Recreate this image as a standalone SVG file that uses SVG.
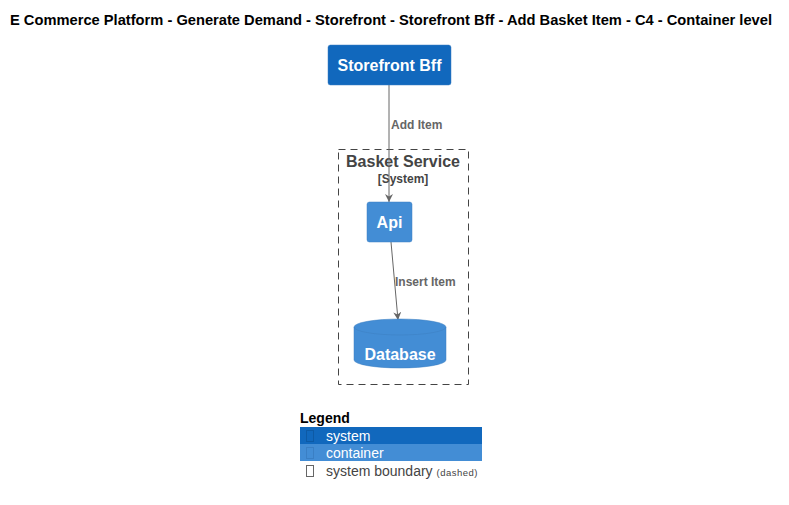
<svg xmlns="http://www.w3.org/2000/svg" width="789" height="505" viewBox="0 0 789 505">
<defs>
<style>
text{font-family:"Liberation Sans",Arial,sans-serif}
.title{font-size:14px;font-weight:bold;fill:#000}
.nlabel{font-size:16px;font-weight:bold;fill:#fff;text-anchor:middle}
.elabel{font-size:12px;font-weight:bold;fill:#666}
.edge{stroke:#666;stroke-width:1;fill:none}
.leg{font-size:14px;fill:#fff}
.icon{fill:none;stroke-width:1}
</style>
<marker id="arr" viewBox="0 0 10 10" refX="10" refY="5" markerWidth="8" markerHeight="8" orient="auto" markerUnits="userSpaceOnUse">
<path d="M0,0 L10,5 L0,10 L3,5 z" fill="#666"/>
</marker>
</defs>
<rect width="789" height="505" fill="#fff"/>
<text class="title" x="10" y="25" textLength="762" lengthAdjust="spacingAndGlyphs">E Commerce Platform - Generate Demand - Storefront - Storefront Bff - Add Basket Item - C4 - Container level</text>

<g id="basket-service-boundary">
<rect x="338.5" y="149.5" width="130" height="235" fill="none" stroke="#444" stroke-width="1" stroke-dasharray="7,5"/>
<text x="403" y="167" text-anchor="middle" style="font-size:16px;font-weight:bold;fill:#444">Basket Service</text>
<text x="403" y="183" text-anchor="middle" style="font-size:12px;font-weight:bold;fill:#444">[System]</text>
</g>

<g id="connectors">
<path class="edge" d="M389,85 L389,202" marker-end="url(#arr)"/>
<text class="elabel" x="391" y="129">Add Item</text>
<path class="edge" d="M391,242 L398,320" marker-end="url(#arr)"/>
<text class="elabel" x="395" y="286">Insert Item</text>
</g>

<g id="storefront-bff">
<rect x="328" y="45" width="123" height="40" rx="2.5" fill="#1168BD" stroke="#3C7FC0" stroke-width="0.5"/>
<text class="nlabel" x="389.5" y="71">Storefront Bff</text>
</g>

<g id="api">
<rect x="367" y="202" width="45" height="40" rx="2.5" fill="#438DD5" stroke="#3C7FC0" stroke-width="0.5"/>
<text class="nlabel" x="389.5" y="228">Api</text>
</g>

<g id="database">
<path d="M354,327 L354,360 A46,8 0 0 0 446,360 L446,327 A46,8 0 0 0 354,327 Z" fill="#438DD5" stroke="#3C7FC0" stroke-width="0.5"/>
<path d="M354,327 A46,8 0 0 0 446,327" fill="none" stroke="#3C7FC0" stroke-width="0.5"/>
<text class="nlabel" x="400" y="360">Database</text>
</g>

<g id="legend">
<text x="300" y="423" style="font-size:14px;font-weight:bold;fill:#000">Legend</text>
<rect x="300" y="427" width="182" height="17" fill="#1168BD"/>
<rect x="306.5" y="430.5" width="7" height="11" class="icon" stroke="#0d5aa5"/>
<text class="leg" x="326" y="441">system</text>
<rect x="300" y="444" width="182" height="17" fill="#438DD5"/>
<rect x="306.5" y="447.5" width="7" height="11" class="icon" stroke="#3a7fc4"/>
<text class="leg" x="326" y="458">container</text>
<rect x="306.5" y="465.5" width="7" height="11" class="icon" stroke="#666"/>
<text x="326" y="476" style="font-size:14px;fill:#444">system boundary <tspan style="font-size:9.5px" letter-spacing="0.5">(dashed)</tspan></text>
</g>
</svg>
